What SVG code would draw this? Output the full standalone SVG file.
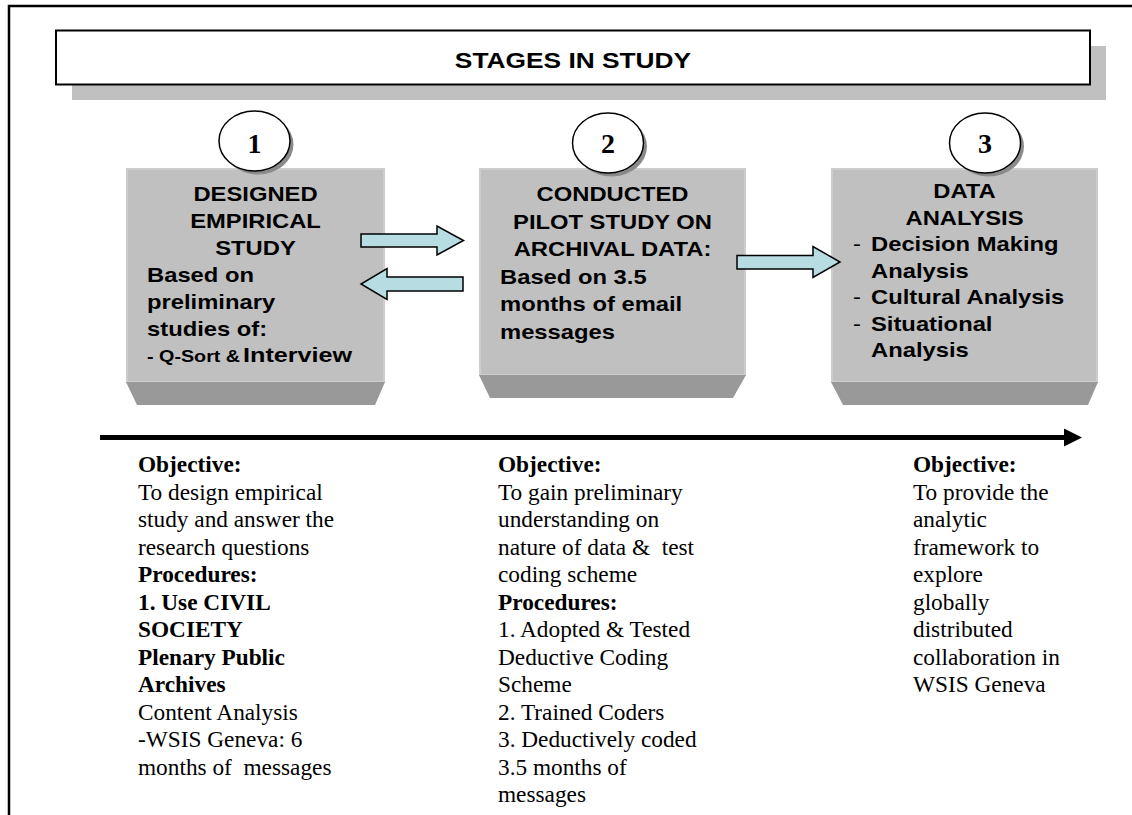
<svg xmlns="http://www.w3.org/2000/svg" width="1132" height="815" viewBox="0 0 1132 815">
  <style>
    .frame { fill: none; stroke: #000; stroke-width: 2.5; }
    .title-box { fill: #fff; stroke: #000; stroke-width: 2; }
    .shadow { fill: #c0c0c0; }
    .face { fill: #c0c0c0; stroke: #cdcdcd; stroke-width: 2; }
    .bevel { fill: #999999; }
    .disc-shadow { fill: #8a8a8a; }
    .disc { fill: #fff; stroke: #000; stroke-width: 1.5; }
    .num { font-family: "Liberation Serif", "Times New Roman", serif; font-weight: bold; font-size: 28px; text-anchor: middle; fill: #000; }
    .hd { font-family: "Liberation Sans", Arial, sans-serif; font-weight: bold; font-size: 20.5px; fill: #000; }
    .c { text-anchor: middle; }
    .small { font-size: 17px; }
    .big { font-size: 21px; }
    .dash { font-weight: normal; }
    .title { font-family: "Liberation Sans", Arial, sans-serif; font-weight: bold; font-size: 22.5px; text-anchor: middle; fill: #000; }
    .body { font-family: "Liberation Serif", "Times New Roman", serif; font-size: 23.3px; fill: #000; }
    .b { font-weight: bold; }
    .block { fill: #b7dde3; stroke: #000; stroke-width: 1.5; stroke-linejoin: miter; }
    .axis { stroke: #000; stroke-width: 5; fill: none; }
  </style>

  <!-- page frame: top and left rules -->
  <path class="frame" d="M9,815 V6 H1132"/>

  <!-- heading banner -->
  <g id="title">
    <rect class="shadow" x="72" y="46" width="1034" height="54"/>
    <rect class="title-box" x="56" y="30.5" width="1034" height="54"/>
    <text class="title" transform="translate(573,67.5) scale(1.17,1)">STAGES IN STUDY</text>
  </g>

  <!-- stage 1 -->
  <g id="stage1">
    <rect class="face" x="127" y="169" width="257" height="213"/>
    <polygon class="bevel" points="126,382 385,382 375,405 137,405"/>
    <ellipse class="disc-shadow" cx="258" cy="144.5" rx="35.5" ry="30"/>
    <ellipse class="disc" cx="254.5" cy="141" rx="35.5" ry="30"/>
    <text class="num" x="254.5" y="152.5">1</text>
    <text class="hd c" transform="translate(255.5,201) scale(1.16,1)">DESIGNED</text>
    <text class="hd c" transform="translate(255.5,228) scale(1.16,1)">EMPIRICAL</text>
    <text class="hd c" transform="translate(255.5,255) scale(1.16,1)">STUDY</text>
    <text class="hd" transform="translate(147,282) scale(1.16,1)">Based on</text>
    <text class="hd" transform="translate(147,309) scale(1.16,1)">preliminary</text>
    <text class="hd" transform="translate(147,336) scale(1.16,1)">studies of:</text>
    <text class="hd small" transform="translate(147,362) scale(1.16,1)">- Q-Sort &amp;</text>
    <text class="hd big" transform="translate(243,362) scale(1.2,1)">Interview</text>
  </g>

  <!-- stage 2 -->
  <g id="stage2">
    <rect class="face" x="480" y="169" width="265" height="206"/>
    <polygon class="bevel" points="479,375 746,375 733,398 490,398"/>
    <ellipse class="disc-shadow" cx="611.5" cy="146.5" rx="35.5" ry="30"/>
    <ellipse class="disc" cx="608" cy="143" rx="35.5" ry="30"/>
    <text class="num" x="608" y="153">2</text>
    <text class="hd c" transform="translate(612.5,201) scale(1.16,1)">CONDUCTED</text>
    <text class="hd c" transform="translate(612.5,228.5) scale(1.16,1)">PILOT STUDY ON</text>
    <text class="hd c" transform="translate(612.5,256) scale(1.16,1)">ARCHIVAL DATA:</text>
    <text class="hd" transform="translate(500,283.5) scale(1.16,1)">Based on 3.5</text>
    <text class="hd" transform="translate(500,311) scale(1.16,1)">months of email</text>
    <text class="hd" transform="translate(500,338.5) scale(1.16,1)">messages</text>
  </g>

  <!-- stage 3 -->
  <g id="stage3">
    <rect class="face" x="832" y="169" width="265" height="213"/>
    <polygon class="bevel" points="831,382 1098,382 1088,405 843,405"/>
    <ellipse class="disc-shadow" cx="988.5" cy="146.5" rx="35.5" ry="30"/>
    <ellipse class="disc" cx="985" cy="143" rx="35.5" ry="30"/>
    <text class="num" x="985" y="153">3</text>
    <text class="hd c" transform="translate(964.5,198) scale(1.16,1)">DATA</text>
    <text class="hd c" transform="translate(964.5,224.5) scale(1.16,1)">ANALYSIS</text>
    <text class="hd dash" transform="translate(853,251) scale(1.16,1)">-</text>
    <text class="hd" transform="translate(871,251) scale(1.16,1)">Decision Making</text>
    <text class="hd" transform="translate(871,277.5) scale(1.16,1)">Analysis</text>
    <text class="hd dash" transform="translate(853,304) scale(1.16,1)">-</text>
    <text class="hd" transform="translate(871,304) scale(1.16,1)">Cultural Analysis</text>
    <text class="hd dash" transform="translate(853,330.5) scale(1.16,1)">-</text>
    <text class="hd" transform="translate(871,330.5) scale(1.16,1)">Situational</text>
    <text class="hd" transform="translate(871,357) scale(1.16,1)">Analysis</text>
  </g>

  <!-- block arrows between stages and the time axis -->
  <g id="connectors">
    <polygon class="block" points="361,234 437,234 437,226 463.5,240.5 437,255 437,247 361,247"/>
    <polygon class="block" points="463,277 387,277 387,268.5 361,284 387,299.5 387,291 463,291"/>
    <polygon class="block" points="737,255.5 813,255.5 813,246.5 840,262 813,277.5 813,269 737,269"/>
    <line class="axis" x1="100" y1="437.5" x2="1066" y2="437.5"/>
    <polygon points="1064,428.5 1082,437.5 1064,446.5" fill="#000"/>
  </g>

  <!-- notes under stage 1 -->
  <g id="notes1" class="body">
    <text x="138" y="472" class="b">Objective:</text>
    <text x="138" y="499.5">To design empirical</text>
    <text x="138" y="527">study and answer the</text>
    <text x="138" y="554.5">research questions</text>
    <text x="138" y="582" class="b">Procedures:</text>
    <text x="138" y="609.5" class="b">1. Use CIVIL</text>
    <text x="138" y="637" class="b">SOCIETY</text>
    <text x="138" y="664.5" class="b">Plenary Public</text>
    <text x="138" y="692" class="b">Archives</text>
    <text x="138" y="719.5">Content Analysis</text>
    <text x="138" y="747">-WSIS Geneva: 6</text>
    <text x="138" y="774.5">months of&#160; messages</text>
  </g>

  <!-- notes under stage 2 -->
  <g id="notes2" class="body">
    <text x="498" y="472" class="b">Objective:</text>
    <text x="498" y="499.5">To gain preliminary</text>
    <text x="498" y="527">understanding on</text>
    <text x="498" y="554.5">nature of data &amp;&#160; test</text>
    <text x="498" y="582">coding scheme</text>
    <text x="498" y="609.5" class="b">Procedures:</text>
    <text x="498" y="637">1. Adopted &amp; Tested</text>
    <text x="498" y="664.5">Deductive Coding</text>
    <text x="498" y="692">Scheme</text>
    <text x="498" y="719.5">2. Trained Coders</text>
    <text x="498" y="747">3. Deductively coded</text>
    <text x="498" y="774.5">3.5 months of</text>
    <text x="498" y="802">messages</text>
  </g>

  <!-- notes under stage 3 -->
  <g id="notes3" class="body">
    <text x="913" y="472" class="b">Objective:</text>
    <text x="913" y="499.5">To provide the</text>
    <text x="913" y="527">analytic</text>
    <text x="913" y="554.5">framework to</text>
    <text x="913" y="582">explore</text>
    <text x="913" y="609.5">globally</text>
    <text x="913" y="637">distributed</text>
    <text x="913" y="664.5">collaboration in</text>
    <text x="913" y="692">WSIS Geneva</text>
  </g>
</svg>
